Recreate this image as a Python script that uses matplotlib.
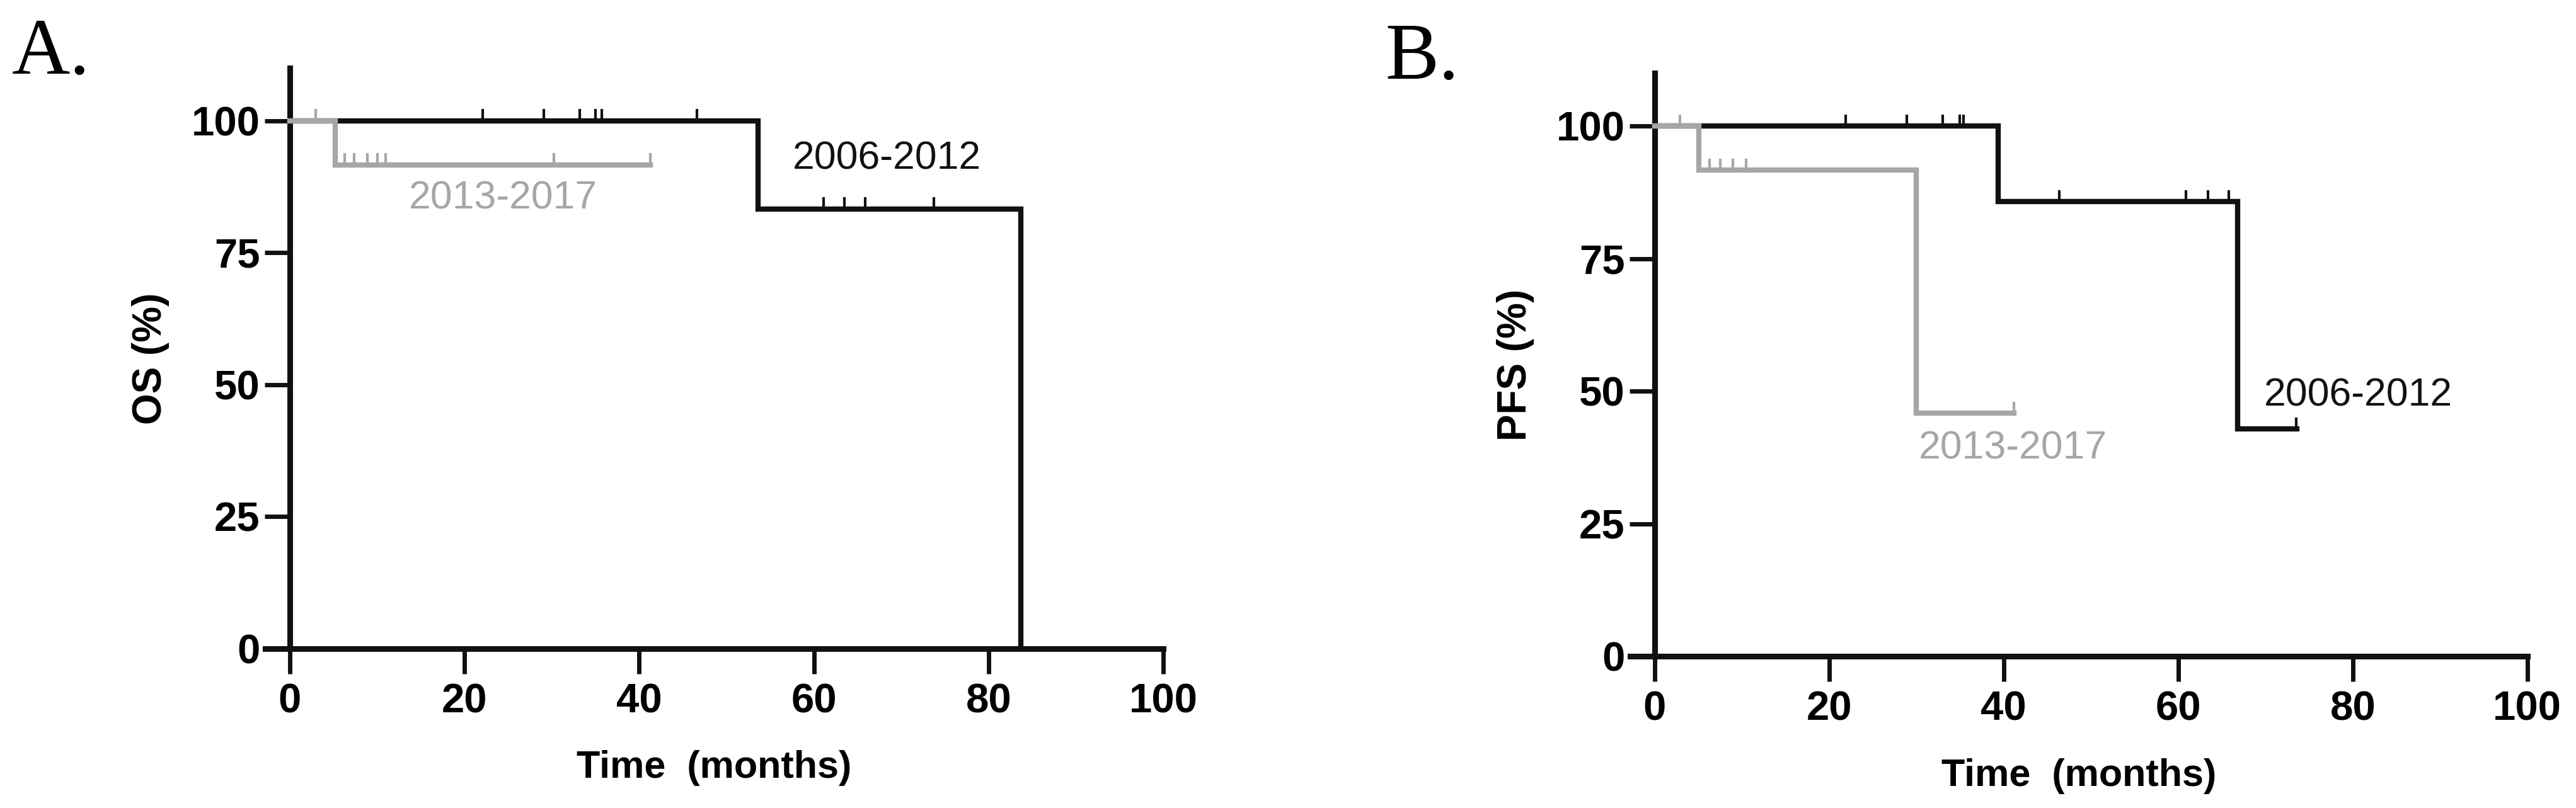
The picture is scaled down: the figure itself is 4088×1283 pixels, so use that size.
"""
Kaplan-Meier style step curves: OS (panel A) and PFS (panel B)
for two treatment periods, drawn Prism-style.
"""

import numpy as np
import matplotlib
matplotlib.use("Agg")
import matplotlib.pyplot as plt

# ── Data ──────────────────────────────────────────────────────────────────────
PERIOD_OLD = "2006-2012"
PERIOD_NEW = "2013-2017"

# Panel A – overall survival
os_old_times = [0, 53.6, 83.7]
os_old_surv = [100, 83.33, 0]
os_old_end = 83.7
os_old_censor = [22.1, 29.1, 33.2, 35.0, 35.7, 46.6, 61.1, 63.5, 65.9, 73.7]

os_new_times = [0, 5.2]
os_new_surv = [100, 91.67]
os_new_end = 41.3
os_new_censor = [3.0, 6.3, 7.4, 8.9, 10.0, 11.0, 30.2, 41.3]

# Panel B – progression-free survival
pfs_old_times = [0, 39.4, 66.8]
pfs_old_surv = [100, 85.71, 42.86]
pfs_old_end = 73.6
pfs_old_censor = [21.9, 28.9, 33.0, 35.0, 35.4, 46.4, 60.9, 63.4, 65.8, 73.5]

pfs_new_times = [0, 5.1, 30.0]
pfs_new_surv = [100, 91.67, 45.83]
pfs_new_end = 41.2
pfs_new_censor = [2.9, 6.3, 7.5, 9.0, 10.5, 41.2]

x_ticks = [0, 20, 40, 60, 80, 100]
y_ticks = [0, 25, 50, 75, 100]

# ── Style ─────────────────────────────────────────────────────────────────────
BLACK = "#111111"
GREY = "#a6a6a6"
SANS = ["Liberation Sans", "DejaVu Sans"]
SERIF = ["Liberation Serif", "DejaVu Serif"]


def survival_at(times, surv, t):
    idx = np.searchsorted(times, t, side="right") - 1
    return np.asarray(surv)[idx]


def draw_curve(ax, times, surv, end, censor, color, z):
    xs = list(times) + [end]
    ys = list(surv) + [surv[-1]]
    ax.step(xs, ys, where="post", color=color, lw=6, zorder=z,
            solid_joinstyle="miter", clip_on=False)
    lv = survival_at(times, surv, censor)
    ax.vlines(censor, lv, lv + 2.2, color=color, lw=3, zorder=z)


def style_axes(ax, ylabel):
    ax.set_xlim(-2.8, 100)
    ax.set_ylim(0, 110)
    ax.spines["left"].set_position(("data", 0))
    for side in ("top", "right"):
        ax.spines[side].set_visible(False)
    for side in ("left", "bottom"):
        ax.spines[side].set_linewidth(6.5)
        ax.spines[side].set_color(BLACK)
    ax.set_xticks(x_ticks)
    ax.set_yticks(y_ticks)
    ax.tick_params(length=29, width=5, color=BLACK, labelsize=47, pad=5)
    ax.tick_params(axis="x", pad=10)
    for lab in ax.get_xticklabels() + ax.get_yticklabels():
        lab.set_fontfamily(SANS)
        lab.set_fontweight("bold")
    ax.set_xlabel("Time  (months)", fontsize=44, fontweight="bold", family=SANS)
    ax.set_ylabel(ylabel, fontsize=46, fontweight="bold", family=SANS)
    ax.xaxis.set_label_coords(0.5, -0.175)
    ax.yaxis.set_label_coords(-0.107, 0.5)


def main():
    fig = plt.figure(figsize=(40.88, 12.83), dpi=100)
    ax_a = fig.add_axes([0.1030, 0.1972, 0.3486, 0.7186])
    ax_b = fig.add_axes([0.6328, 0.1878, 0.3483, 0.7218])

    # ── Panel A ──
    draw_curve(ax_a, os_old_times, os_old_surv, os_old_end, os_old_censor, BLACK, 3)
    draw_curve(ax_a, os_new_times, os_new_surv, os_new_end, os_new_censor, GREY, 4)
    style_axes(ax_a, "OS (%)")
    ax_a.text(57.6, 92.8, PERIOD_OLD, color=BLACK, fontsize=45, family=SANS,
              va="center", ha="left")
    ax_a.text(13.6, 85.3, PERIOD_NEW, color=GREY, fontsize=45, family=SANS,
              va="center", ha="left")

    # ── Panel B ──
    draw_curve(ax_b, pfs_old_times, pfs_old_surv, pfs_old_end, pfs_old_censor, BLACK, 3)
    draw_curve(ax_b, pfs_new_times, pfs_new_surv, pfs_new_end, pfs_new_censor, GREY, 4)
    style_axes(ax_b, "PFS (%)")
    ax_b.text(69.8, 49.2, PERIOD_OLD, color=BLACK, fontsize=45, family=SANS,
              va="center", ha="left")
    ax_b.text(30.3, 39.2, PERIOD_NEW, color=GREY, fontsize=45, family=SANS,
              va="center", ha="left")

    # panel letters
    fig.text(0.0047, 0.909, "A.", fontsize=92, family=SERIF, va="baseline")
    fig.text(0.5377, 0.9026, "B.", fontsize=92, family=SERIF, va="baseline")

    fig.savefig("out.png", dpi=100, facecolor="white")
    plt.close(fig)


if __name__ == "__main__":
    main()
